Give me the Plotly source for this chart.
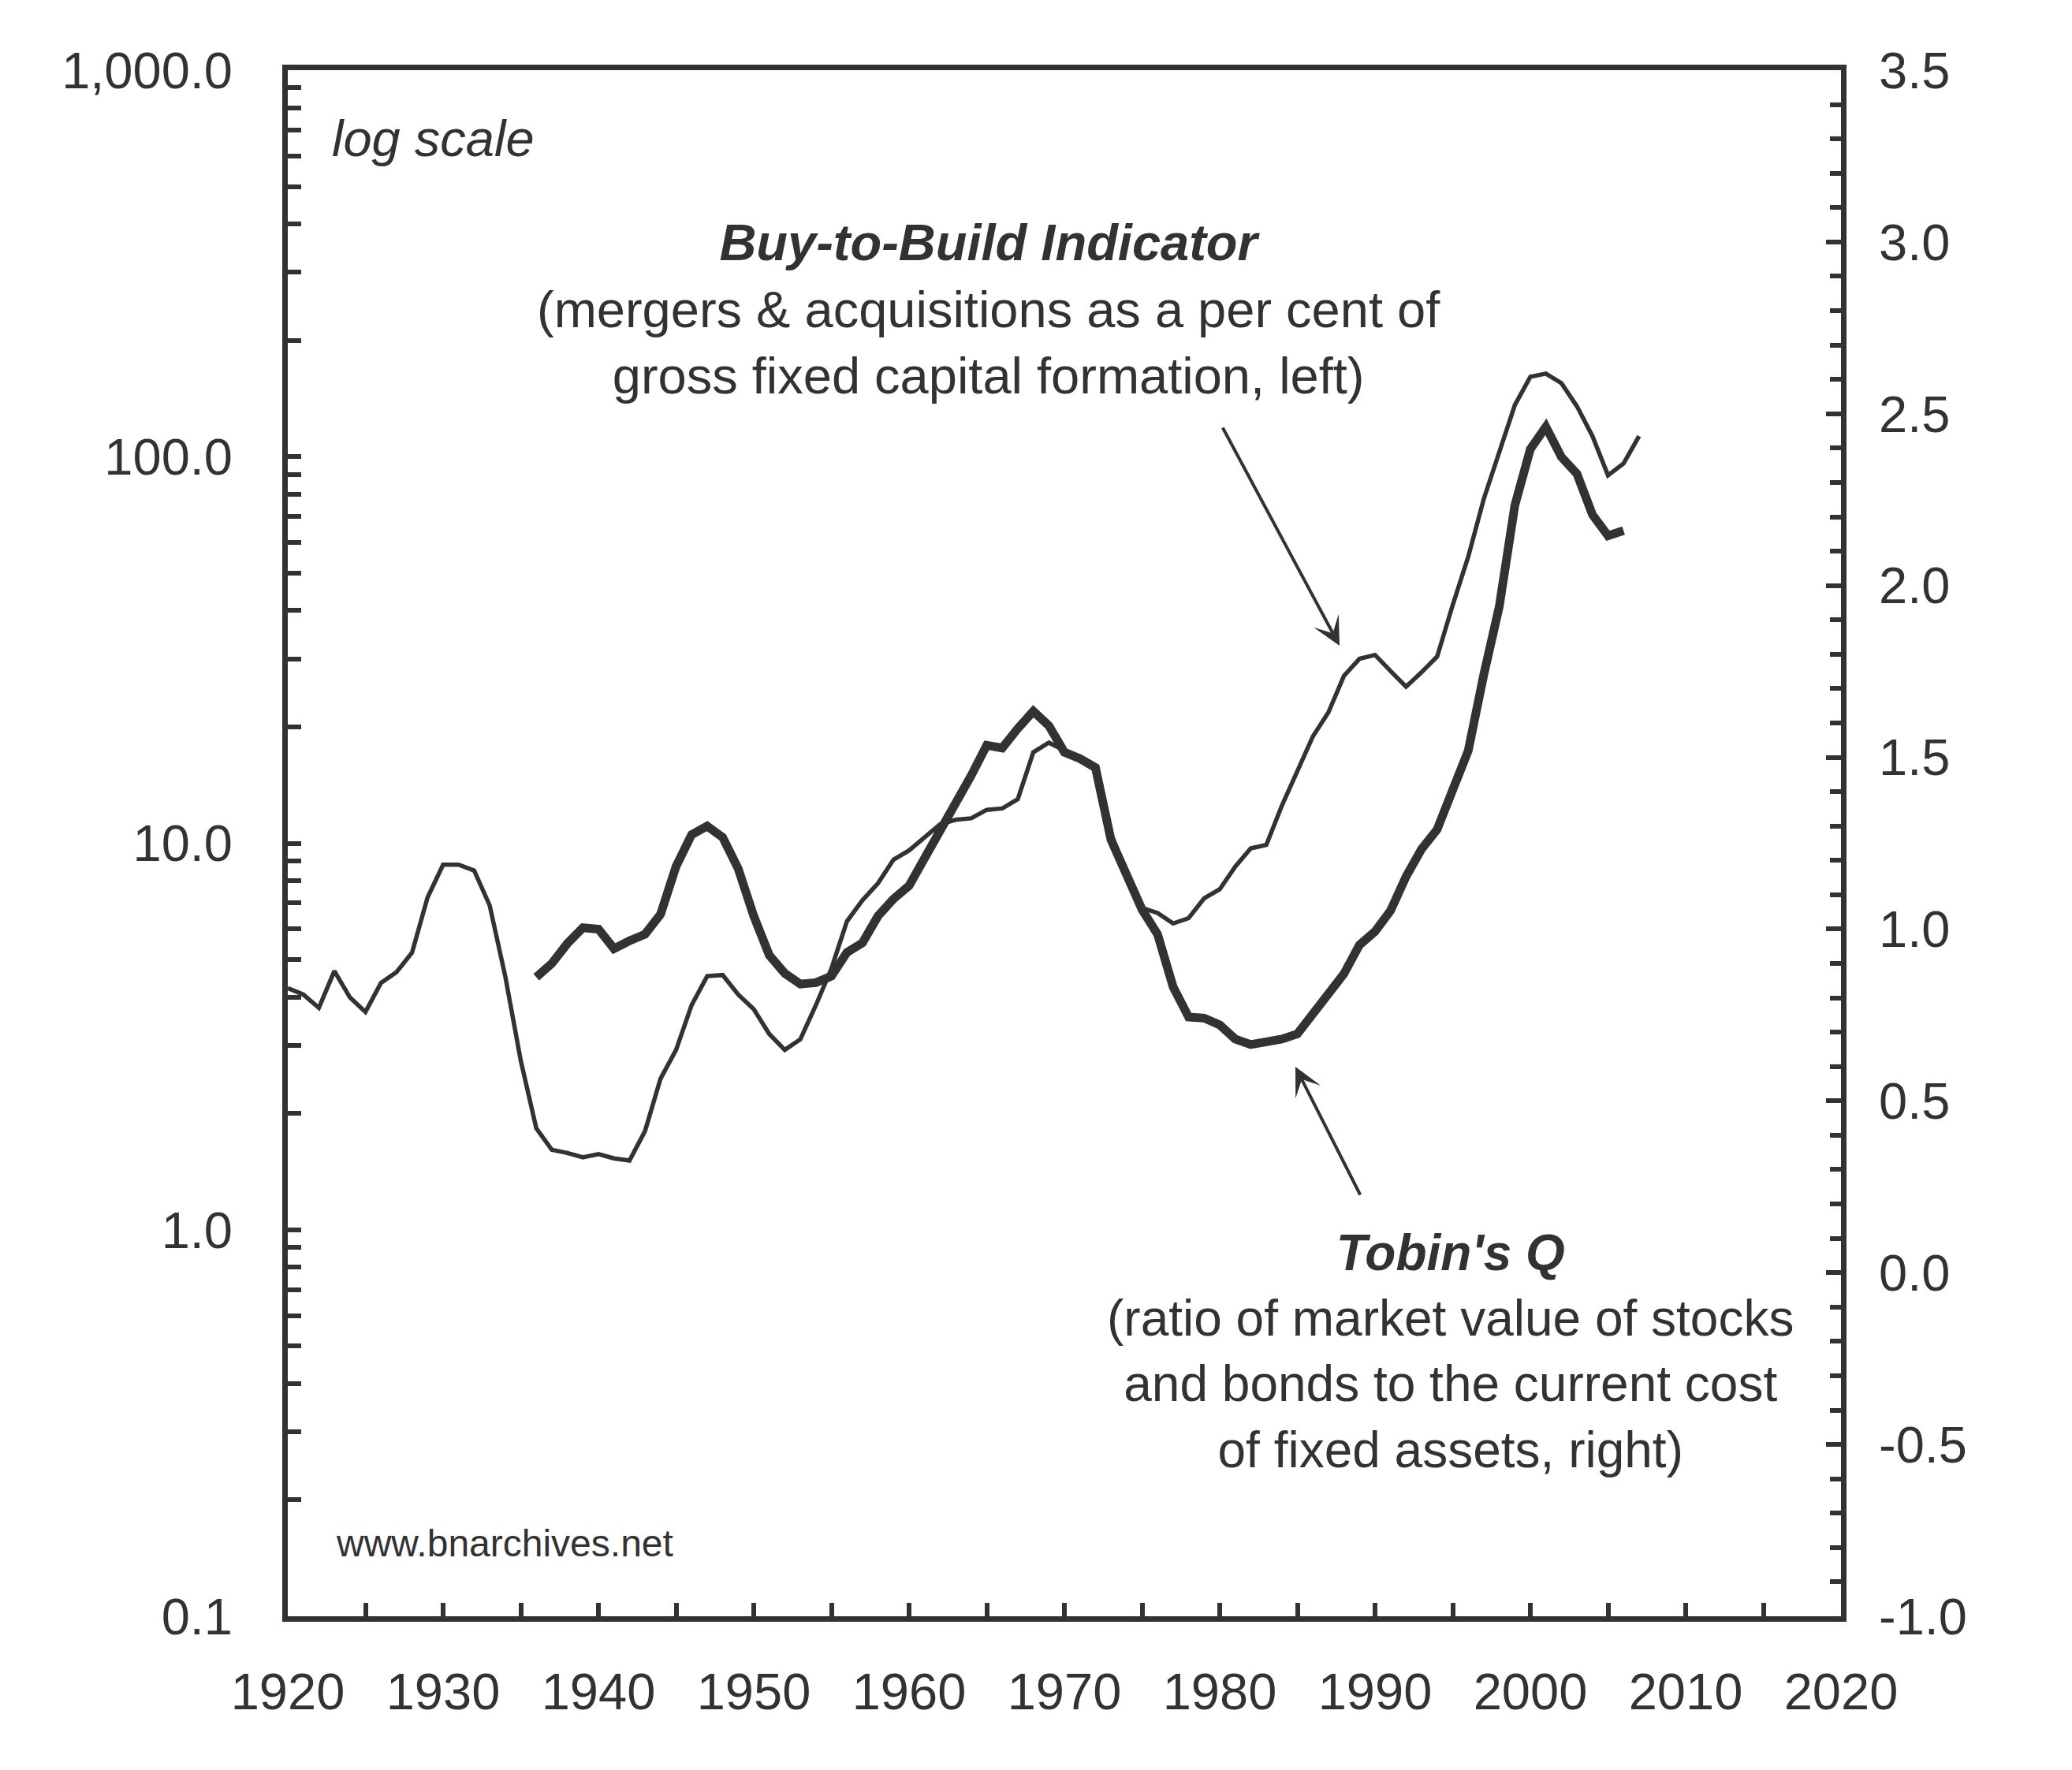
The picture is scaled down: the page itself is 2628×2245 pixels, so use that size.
import plotly.graph_objects as go

INK = "#323232"
FONT = "Liberation Sans, Arial, Helvetica, sans-serif"

# ---- data ----
years_btb = list(range(1920, 2008))
buy_to_build = [4.22, 4.06, 3.75, 4.67, 3.99, 3.66, 4.35, 4.64, 5.21, 7.24,   # 1920-1929
                8.8, 8.8, 8.5, 6.9, 4.53, 2.74, 1.83, 1.61, 1.58, 1.54,       # 1930-1939
                1.57, 1.53, 1.51, 1.80, 2.46, 2.92, 3.81, 4.53, 4.56, 4.06,   # 1940-1949
                3.72, 3.21, 2.92, 3.11, 3.81, 4.74, 6.28, 7.12, 7.88, 9.07,   # 1950-1959
                9.58, 10.35, 11.2, 11.5, 11.6, 12.2, 12.3, 13.0, 17.2, 18.2,  # 1960-1969
                17.4, 16.6, 15.6, 10.6, 8.4, 6.8, 6.6, 6.2, 6.4, 7.2,         # 1970-1979
                7.6, 8.7, 9.7, 9.9, 12.5, 15.3, 18.9, 21.8, 27.1, 30.0,       # 1980-1989
                30.7, 27.9, 25.4, 27.7, 30.4, 41.3, 55.1, 77.7, 103, 136,     # 1990-1999
                161, 164, 155, 135, 113, 89.5, 96, 113]                       # 2000-2007

years_q = list(range(1936, 2007))
tobins_q = [0.86, 0.90, 0.958, 1.004, 1.0, 0.943, 0.966, 0.985, 1.043, 1.183,   # 1936-1945
            1.275, 1.30, 1.267, 1.176, 1.038, 0.924, 0.871, 0.84, 0.844, 0.863,  # 1946-1955
            0.932, 0.96, 1.038, 1.088, 1.126, 1.206, 1.29, 1.359, 1.447, 1.535,  # 1956-1965
            1.527, 1.584, 1.634, 1.592, 1.515, 1.496, 1.47, 1.26, 1.153, 1.057,  # 1966-1975
            0.985, 0.832, 0.744, 0.741, 0.721, 0.68, 0.664, 0.672, 0.68, 0.695,  # 1976-1985
            0.756, 0.817, 0.870, 0.954, 0.993, 1.054, 1.153, 1.233, 1.29, 1.405, # 1986-1995
            1.519, 1.74, 1.939, 2.233, 2.397, 2.462, 2.374, 2.325, 2.206, 2.145, # 1996-2005
            2.160]                                                               # 2006

x_tick_vals = [1920, 1930, 1940, 1950, 1960, 1970, 1980, 1990, 2000, 2010, 2020]
x_tick_text = ["1920", "1930", "1940", "1950", "1960", "1970", "1980", "1990", "2000", "2010", "2020"]

left_decades = [0.1, 1.0, 10.0, 100.0, 1000.0]
left_decade_text = ["0.1", "1.0", "10.0", "100.0", "1,000.0"]

right_tick_vals = [-1.0, -0.5, 0.0, 0.5, 1.0, 1.5, 2.0, 2.5, 3.0, 3.5]
right_tick_text = ["-1.0", "-0.5", "0.0", "0.5", "1.0", "1.5", "2.0", "2.5", "3.0", "3.5"]

# build log tick list (decades labelled, 2..9 unlabeled)
left_vals, left_text = [], []
for d, lab in zip(left_decades, left_decade_text):
    left_vals.append(d)
    left_text.append(lab)
    if d < 1000:
        for m in range(2, 10):
            left_vals.append(round(d * m, 6))
            left_text.append("")

# ---- figure geometry ----
W, H = 2628, 2245
L, R, T, B = 365, 2335, 89, 2050   # plot-area pixel edges


def xp(px):
    return (px - L) / (R - L)


def yp(py):
    return (B - py) / (B - T)


fig = go.Figure()
fig.add_trace(go.Scatter(x=years_btb, y=buy_to_build, mode="lines",
                         line=dict(color=INK, width=5.5), showlegend=False,
                         name="Buy-to-Build Indicator"))
fig.add_trace(go.Scatter(x=years_q, y=tobins_q, mode="lines", yaxis="y2",
                         line=dict(color=INK, width=11), showlegend=False,
                         name="Tobin's Q"))

axis_common = dict(showline=True, linewidth=7, linecolor=INK, showgrid=False,
                   zeroline=False, ticks="inside", tickcolor=INK, tickwidth=6,
                   tickfont=dict(family=FONT, size=65, color=INK))

fig.update_layout(
    width=W, height=H, autosize=False,
    margin=dict(l=L, r=W - R, t=T, b=H - B, pad=0),
    paper_bgcolor="white", plot_bgcolor="white",
    font=dict(family=FONT, size=64, color=INK),
    showlegend=False,
    xaxis=dict(range=[1920, 2020], mirror=True, ticklen=17,
               tickmode="array", tickvals=x_tick_vals, ticktext=x_tick_text,
               minor=dict(ticks="inside", ticklen=17, tickwidth=6, tickcolor=INK,
                          dtick=5, tick0=1920),
               ticklabelstandoff=33, **axis_common),
    yaxis=dict(type="log", range=[-1, 3], ticklen=17,
               tickmode="array", tickvals=left_vals, ticktext=left_text,
               ticklabelstandoff=50, **axis_common),
    yaxis2=dict(range=[-1, 3.5], overlaying="y", side="right", ticklen=19,
                tickmode="array", tickvals=right_tick_vals, ticktext=right_tick_text,
                minor=dict(ticks="inside", ticklen=14, tickwidth=6, tickcolor=INK,
                           dtick=0.1, tick0=-1),
                ticklabelstandoff=28, **axis_common),
)

# ---- texts ----
fig.add_annotation(xref="paper", yref="paper", x=xp(419), y=yp(176),
                   xanchor="left", yanchor="middle", showarrow=False,
                   text="<i>log scale</i>", font=dict(family=FONT, size=65, color=INK))

fig.add_annotation(xref="paper", yref="paper", x=xp(1254), y=yp(392),
                   xanchor="center", yanchor="middle", showarrow=False, align="center",
                   text="<b><i>Buy-to-Build Indicator</i></b><br>"
                        "(mergers &amp; acquisitions as a per cent of<br>"
                        "gross fixed capital formation, left)",
                   font=dict(family=FONT, size=65, color=INK))

fig.add_annotation(xref="paper", yref="paper", x=xp(1839), y=yp(1714),
                   xanchor="center", yanchor="middle", showarrow=False, align="center",
                   text="<b><i>Tobin's Q</i></b><br>"
                        "(ratio of market value of stocks<br>"
                        "and bonds to the current cost<br>"
                        "of fixed assets, right)",
                   font=dict(family=FONT, size=64, color=INK))

fig.add_annotation(xref="paper", yref="paper", x=xp(424), y=yp(1957),
                   xanchor="left", yanchor="middle", showarrow=False,
                   text="www.bnarchives.net", font=dict(family=FONT, size=48, color=INK))

# ---- arrows ----
fig.add_annotation(xref="paper", yref="paper", x=xp(1699), y=yp(819),
                   ax=-149, ay=-278, axref="pixel", ayref="pixel", text="",
                   showarrow=True, arrowhead=3, arrowsize=1.5, arrowwidth=4,
                   arrowcolor=INK)
fig.add_annotation(xref="paper", yref="paper", x=xp(1643), y=yp(1353),
                   ax=83, ay=164, axref="pixel", ayref="pixel", text="",
                   showarrow=True, arrowhead=3, arrowsize=1.5, arrowwidth=4,
                   arrowcolor=INK)

fig.write_html("out.html")
